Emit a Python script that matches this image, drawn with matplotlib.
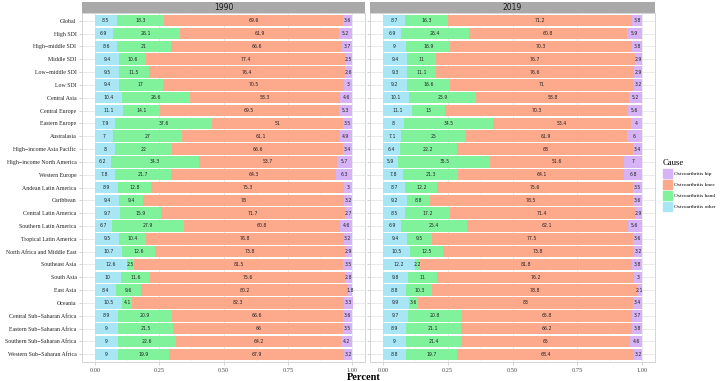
import numpy as np
import matplotlib
matplotlib.use("Agg")
import matplotlib.pyplot as plt
from matplotlib.patches import Patch

regions = ["Global", "High SDI", "High\u2212middle SDI", "Middle SDI", "Low\u2212middle SDI", "Low SDI",
           "Central Asia", "Central Europe", "Eastern Europe", "Australasia",
           "High\u2212income Asia Pacific", "High\u2212income North America", "Western Europe",
           "Andean Latin America", "Caribbean", "Central Latin America", "Southern Latin America",
           "Tropical Latin America", "North Africa and Middle East", "Southeast Asia", "South Asia",
           "East Asia", "Oceania", "Central Sub\u2212Saharan Africa", "Eastern Sub\u2212Saharan Africa",
           "Southern Sub\u2212Saharan Africa", "Western Sub\u2212Saharan Africa"]

# 1990 (percent)
other_1990 = [8.5, 6.9, 8.6, 9.4, 9.5, 9.4, 10.4, 11.1, 7.9, 7, 8, 6.2, 7.8, 8.9, 9.4, 9.7, 6.7,
              9.5, 10.7, 12.6, 10, 8.4, 10.5, 8.9, 9, 9, 9]
hand_1990 = [18.3, 26.1, 21, 10.6, 11.5, 17, 26.6, 14.1, 37.6, 27, 22, 34.3, 21.7, 12.8, 9.4, 15.9,
             27.9, 10.4, 12.6, 2.5, 11.6, 9.6, 4.1, 20.9, 21.5, 22.6, 19.9]
knee_1990 = [69.6, 61.9, 66.6, 77.4, 76.4, 70.5, 58.3, 69.5, 51, 61.1, 66.6, 53.7, 64.3, 75.3, 78,
             71.7, 60.8, 76.8, 73.8, 81.5, 75.6, 80.2, 82.3, 66.6, 66, 64.2, 67.9]
hip_1990 = [3.6, 5.2, 3.7, 2.5, 2.6, 3, 4.6, 5.3, 3.5, 4.9, 3.4, 5.7, 6.3, 3, 3.2, 2.7, 4.6, 3.2,
            2.9, 3.5, 2.8, 1.8, 3.3, 3.6, 3.5, 4.2, 3.2]

# 2019 (percent)
other_2019 = [8.7, 6.9, 9, 9.4, 9.3, 9.2, 10.1, 11.1, 8, 7.1, 6.4, 5.9, 7.8, 8.7, 9.2, 8.5, 6.9,
              9.4, 10.5, 12.2, 9.8, 8.8, 9.9, 9.7, 8.9, 9, 8.8]
hand_2019 = [16.3, 26.4, 16.9, 11, 11.1, 16.6, 25.9, 13, 34.5, 25, 22.2, 35.5, 21.3, 12.2, 8.8,
             17.2, 25.4, 9.5, 12.5, 2.2, 11, 10.3, 3.6, 20.8, 21.1, 21.4, 19.7]
knee_2019 = [71.2, 60.8, 70.3, 76.7, 76.6, 71, 58.8, 70.3, 53.4, 61.9, 68, 51.6, 64.1, 75.6, 78.5,
             71.4, 62.1, 77.5, 73.8, 81.8, 76.2, 78.8, 83, 65.8, 66.2, 65, 68.4]
hip_2019 = [3.8, 5.9, 3.8, 2.9, 2.9, 3.2, 5.2, 5.6, 4, 6, 3.4, 7, 6.8, 3.5, 3.6, 2.9, 5.6, 3.6,
            3.2, 3.8, 3, 2.1, 3.4, 3.7, 3.8, 4.6, 3.2]

causes = ["Osteoarthritis other", "Osteoarthritis hand", "Osteoarthritis knee", "Osteoarthritis hip"]
colors = ["#A8E6F6", "#80F29B", "#FCA98C", "#D5B3F5"]

serif = ["Liberation Serif", "DejaVu Serif"]

fig = plt.figure(figsize=(7.27, 3.81), dpi=100)
W, H = 727, 381


def box(x0, y0, x1, y1):
    return [x0 / W, 1 - y1 / H, (x1 - x0) / W, (y1 - y0) / H]


panels = [("1990", [other_1990, hand_1990, knee_1990, hip_1990], 82, 365),
          ("2019", [other_2019, hand_2019, knee_2019, hip_2019], 370, 655)]

y = np.arange(len(regions))
for k, (year, series, x0, x1) in enumerate(panels):
    ax = fig.add_axes(box(x0, 13, x1, 362))
    left = np.zeros(len(regions))
    for vals, col in zip(series, colors):
        frac = np.array(vals) / 100
        ax.barh(y, frac, left=left, height=0.9, color=col, zorder=2)
        for yi, (l, f, v) in enumerate(zip(left, frac, vals)):
            ax.text(l + f / 2, yi, f"{v:g}", ha="center", va="center", fontsize=3.3,
                    color="#222222", zorder=3)
        left = left + frac
    ax.set_xlim(-0.05, 1.05)
    ax.set_ylim(len(regions) - 0.4, -0.6)
    ax.set_xticks([0, 0.25, 0.5, 0.75, 1.0])
    ax.set_xticklabels(["0.00", "0.25", "0.50", "0.75", "1.00"], fontsize=4.6,
                       family=serif, color="#4d4d4d")
    ax.set_xticks([0.125, 0.375, 0.625, 0.875], minor=True)
    ax.set_yticks(y)
    if k == 0:
        ax.set_yticklabels(regions, fontsize=4.2, family=serif, color="#222222")
    else:
        ax.set_yticklabels([])
    ax.grid(True, which="major", color="#e6e6e6", lw=0.6, zorder=0)
    ax.grid(True, which="minor", axis="x", color="#f2f2f2", lw=0.4, zorder=0)
    ax.tick_params(which="both", length=2, width=0.4, color="#b3b3b3", pad=2)
    ax.tick_params(which="minor", length=0)
    for s in ax.spines.values():
        s.set_color("#cfcfcf")
        s.set_linewidth(0.6)
    # facet strip
    st = fig.add_axes(box(x0, 2, x1, 13))
    st.set_facecolor("#a9a9a9")
    st.set_xticks([])
    st.set_yticks([])
    for s in st.spines.values():
        s.set_visible(False)
    st.text(0.5, 0.5, year, ha="center", va="center", fontsize=5.5, color="#1a1a1a",
            transform=st.transAxes)

fig.text(364 / W, 1 - 377 / H, "Percent", ha="center", va="center", fontsize=7.5,
         fontweight="bold", family=serif)

handles = [Patch(color=c, label=n) for n, c in zip(causes, colors)][::-1]
leg = fig.legend(handles=handles, loc="upper left", bbox_to_anchor=(662 / W, 1 - 158 / H),
                 frameon=False, title="Cause", prop={"family": serif, "size": 3.9},
                 handlelength=1.6, handleheight=2.2, handletextpad=0.5, labelspacing=0.35,
                 borderaxespad=0, borderpad=0.2)
leg.get_title().set_fontfamily(serif)
leg.get_title().set_fontsize(6.2)
leg._legend_box.align = "left"

fig.savefig("out.png", dpi=100)
